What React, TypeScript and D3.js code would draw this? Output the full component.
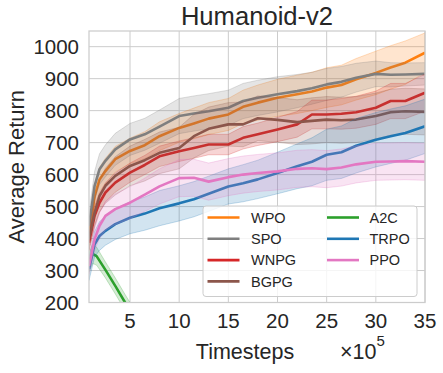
import React from "react";
import * as d3 from "d3";

// x values in units of 1e5 timesteps
const steps = [0.83, 1.4, 1.9, 2.5, 3.5, 5, 6.5, 8, 10, 11.5, 13, 15, 16.5, 18, 20, 22, 23.5, 25, 26.5, 28, 30, 31.5, 33, 35];
const a2cSteps = [0.83, 1.2, 1.6, 2.5, 3.5, 4.5, 5.5, 6.5];

const wpoMean = [408, 533, 585, 611, 648, 674, 692, 720, 746, 760, 775, 788, 812, 825, 840, 851, 860, 872, 880, 898, 918, 935, 950, 981];
const wpoStd = [30, 35, 38, 40, 40, 40, 42, 45, 45, 48, 50, 50, 52, 55, 58, 60, 60, 62, 62, 65, 68, 68, 68, 62];
const spoMean = [440, 565, 617, 643, 679, 710, 726, 750, 783, 791, 798, 809, 830, 840, 851, 861, 870, 882, 890, 903, 915, 912, 913, 915];
const spoStd = [40, 45, 48, 50, 50, 50, 50, 52, 55, 55, 55, 55, 55, 55, 55, 52, 50, 50, 48, 45, 40, 38, 36, 35];
const wnpgMean = [387, 471, 512, 544, 575, 606, 630, 657, 673, 683, 694, 694, 715, 726, 741, 757, 788, 788, 790, 795, 809, 830, 830, 856];
const wnpgStd = [25, 30, 30, 30, 30, 30, 30, 32, 32, 32, 32, 32, 35, 35, 38, 40, 45, 45, 48, 50, 52, 55, 55, 58];
const bgpgMean = [398, 481, 533, 565, 596, 627, 645, 668, 683, 720, 743, 757, 757, 776, 771, 764, 768, 772, 770, 772, 783, 795, 798, 796];
const bgpgStd = [35, 45, 50, 55, 60, 62, 65, 65, 65, 68, 68, 68, 70, 70, 70, 70, 72, 72, 72, 72, 72, 72, 72, 72];
const a2cMean = [325, 352, 345, 302, 252, 200, 150, 100];
const a2cStd = [30, 30, 28, 25, 25, 25, 25, 25];
const trpoMean = [304, 382, 408, 424, 445, 465, 478, 495, 510, 523, 540, 563, 573, 585, 605, 626, 640, 662, 670, 690, 709, 720, 730, 751];
const trpoStd = [35, 40, 45, 45, 48, 50, 52, 55, 55, 55, 55, 55, 58, 60, 65, 70, 75, 80, 82, 85, 85, 85, 85, 85];
const ppoMean = [314, 398, 440, 471, 492, 512, 537, 563, 589, 590, 578, 592, 600, 605, 610, 618, 620, 617, 622, 632, 640, 641, 642, 640];
const ppoStd = [25, 35, 40, 45, 48, 50, 52, 55, 58, 58, 58, 58, 58, 58, 58, 58, 58, 58, 58, 58, 58, 58, 58, 58];

const xTicks = [5, 10, 15, 20, 25, 30, 35];
const yTicks = [200, 300, 400, 500, 600, 700, 800, 900, 1000];

const series = [
  { name: "WPO", color: "#ff7f0e", x: steps, mean: wpoMean, std: wpoStd },
  { name: "SPO", color: "#7f7f7f", x: steps, mean: spoMean, std: spoStd },
  { name: "WNPG", color: "#d62728", x: steps, mean: wnpgMean, std: wnpgStd },
  { name: "BGPG", color: "#8c564b", x: steps, mean: bgpgMean, std: bgpgStd },
  { name: "A2C", color: "#2ca02c", x: a2cSteps, mean: a2cMean, std: a2cStd },
  { name: "TRPO", color: "#1f77b4", x: steps, mean: trpoMean, std: trpoStd },
  { name: "PPO", color: "#e377c2", x: steps, mean: ppoMean, std: ppoStd },
];

const W = 443, H = 373;
const L = 89, R = 425, T = 31, B = 302.5;
const FONT = "'Liberation Sans', Arial, sans-serif";
const TXT = "#262626";

export default function App() {
  const x = d3.scaleLinear().domain([0.83, 35]).range([L, R]);
  const y = d3.scaleLinear().domain([200, 1049]).range([B, T]);

  const line = (xs: number[], ys: number[]) =>
    d3.line<number>().x((_, i) => x(xs[i])).y((d) => y(d))(ys) || "";
  const area = (xs: number[], m: number[], s: number[]) =>
    d3.area<number>().x((_, i) => x(xs[i])).y0((d, i) => y(d - s[i])).y1((d, i) => y(d + s[i]))(m) || "";

  const legendCols = [
    { handleX: 207.5, textX: 251, items: series.filter((s) => ["WPO", "SPO", "WNPG", "BGPG"].includes(s.name)) },
    { handleX: 327, textX: 369.5, items: series.filter((s) => ["A2C", "TRPO", "PPO"].includes(s.name)) },
  ];
  const rowY = (i: number) => 217.5 + i * 21.3;

  return (
    <svg width={W} height={H} style={{ position: "absolute", left: 0, top: 0, background: "#fff" }} fontFamily={FONT}>
      <defs>
        <clipPath id="plotclip">
          <rect x={L} y={T} width={R - L} height={B - T} />
        </clipPath>
      </defs>
      <rect x={0} y={0} width={W} height={H} fill="#fff" />
      {/* grid */}
      {xTicks.map((t) => (
        <line key={"gx" + t} x1={x(t)} x2={x(t)} y1={T} y2={B} stroke="#cccccc" strokeWidth={1} />
      ))}
      {yTicks.map((t) => (
        <line key={"gy" + t} x1={L} x2={R} y1={y(t)} y2={y(t)} stroke="#cccccc" strokeWidth={1} />
      ))}
      {/* data */}
      <g clipPath="url(#plotclip)">
        {series.map((s) => (
          <g key={s.name}>
            <path d={area(s.x, s.mean, s.std)} fill={s.color} fillOpacity={0.2} stroke={s.color} strokeOpacity={0.25} strokeWidth={1} />
            <path d={line(s.x, s.mean)} fill="none" stroke={s.color} strokeWidth={2.6} strokeLinejoin="round" />
          </g>
        ))}
      </g>
      {/* frame */}
      <rect x={L} y={T} width={R - L} height={B - T} fill="none" stroke="#cccccc" strokeWidth={1.25} />
      {/* ticks */}
      {xTicks.map((t) => (
        <text key={"tx" + t} x={x(t)} y={328} textAnchor="middle" fontSize={20.5} fill={TXT}>{t}</text>
      ))}
      {yTicks.map((t) => (
        <text key={"ty" + t} x={79} y={y(t) + 7.3} textAnchor="end" fontSize={20.5} fill={TXT}>{t}</text>
      ))}
      {/* labels */}
      <text x={(L + R) / 2} y={25} textAnchor="middle" fontSize={25.6} fill={TXT}>Humanoid-v2</text>
      <text x={245} y={359} textAnchor="middle" fontSize={21.5} fill={TXT}>Timesteps</text>
      <text x={340} y={359} fontSize={21.5} fill={TXT}>×10<tspan dy={-13} fontSize={15}>5</tspan></text>
      <text transform={`translate(23.5, ${(T + B) / 2}) rotate(-90)`} textAnchor="middle" fontSize={22} fill={TXT}>Average Return</text>
      {/* legend */}
      <rect x={203} y={206} width={214} height={90.5} rx={3} fill="#fff" fillOpacity={0.8} stroke="#cccccc" strokeWidth={1} />
      {legendCols.map((c, ci) =>
        c.items.map((s, i) => (
          <g key={s.name}>
            <line x1={c.handleX} x2={c.handleX + 32} y1={rowY(i)} y2={rowY(i)} stroke={s.color} strokeWidth={2.6} />
            <text x={c.textX} y={rowY(i) + 5.3} fontSize={14.5} fill={TXT}>{s.name}</text>
          </g>
        ))
      )}
    </svg>
  );
}
